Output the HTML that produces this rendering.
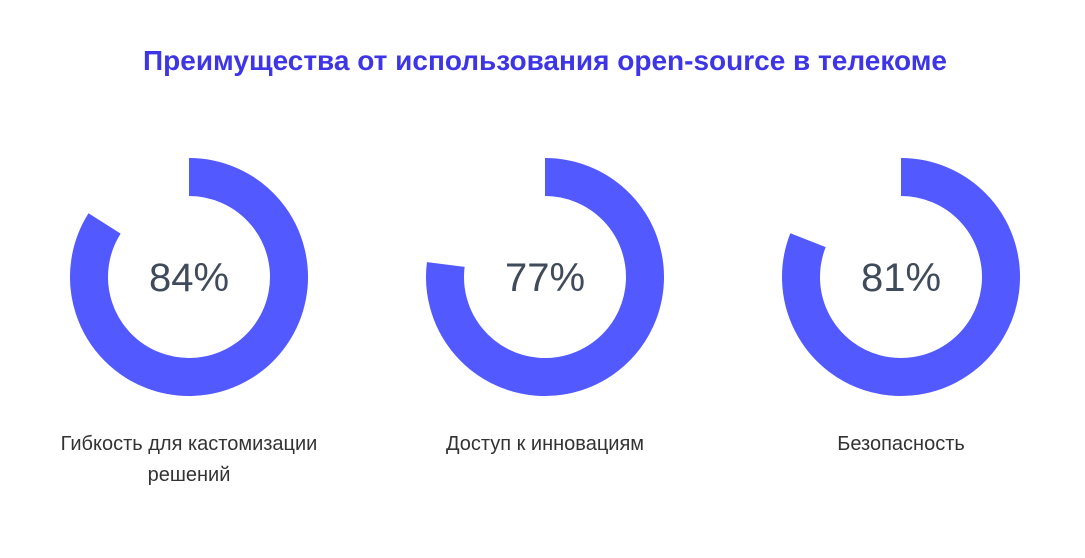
<!DOCTYPE html>
<html><head><meta charset="utf-8"><style>
body{margin:0;width:1085px;height:553px;background:#fff;font-family:"Liberation Sans",sans-serif;overflow:hidden}
</style></head><body>
<svg width="1085" height="553">
<text x="545" y="70" text-anchor="middle" font-size="28" font-weight="bold" fill="#3d35e6">Преимущества от использования open-source в телекоме</text>
<g id="donuts"></g>
</svg>
<script>
const categories=["Гибкость для кастомизации|решений","Доступ к инновациям","Безопасность"];
const values=[84,77,81];
const centersX=[189,545,901];
const cy=277,r=100,sw=38;
const g=document.getElementById('donuts');
const NS='http://www.w3.org/2000/svg';
function pt(cx,frac){const a=frac*2*Math.PI;return [cx+r*Math.sin(a),cy-r*Math.cos(a)];}
values.forEach((v,i)=>{
  const cx=centersX[i];
  const [x0,y0]=pt(cx,0),[x1,y1]=pt(cx,v/100);
  const p=document.createElementNS(NS,'path');
  p.setAttribute('d',`M${x0} ${y0} A${r} ${r} 0 ${v>50?1:0} 1 ${x1} ${y1}`);
  p.setAttribute('fill','none');p.setAttribute('stroke','#5159ff');p.setAttribute('stroke-width',sw);
  
  
  g.appendChild(p);
  const t=document.createElementNS(NS,'text');
  t.setAttribute('x',cx);t.setAttribute('y',cy+14);t.setAttribute('text-anchor','middle');
  t.setAttribute('font-size','40');t.setAttribute('fill','#3f4a5a');
  t.textContent=v+'%';
  
  
  g.appendChild(t);
  categories[i].split('|').forEach((line,j)=>{
    const l=document.createElementNS(NS,'text');
    l.setAttribute('x',cx);l.setAttribute('y',450+j*31);l.setAttribute('text-anchor','middle');
    l.setAttribute('font-size','20');l.setAttribute('fill','#333');
    l.textContent=line;
    
    
    g.appendChild(l);
  });
});
</script>
</body></html>
